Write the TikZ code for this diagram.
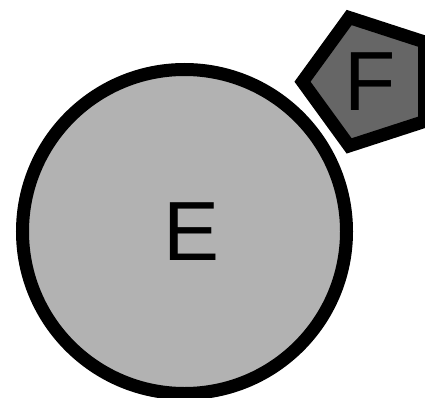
\documentclass[tikz,border=0pt]{standalone}
\usepackage{fontspec}
\setmainfont{Liberation Sans}
\usetikzlibrary{shapes.geometric}

\begin{document}
\begin{tikzpicture}[x=1pt, y=-1pt,
  outlined/.style={draw=black, line width=13pt, inner sep=0pt},
  bigletter/.style={font=\fontsize{84}{84}\selectfont}]
  % Bounding box
  \useasboundingbox (0,0) rectangle (425,398);
  % Circle E
  \node[outlined, circle, fill=black!30, minimum size=324pt,
        label={[bigletter, xshift=7pt]center:E}] (circE) at (184.5,231.5) {};
  % Pentagon F
  \node[outlined, regular polygon, regular polygon sides=5, shape border rotate=90,
        fill=black!60, minimum size=135pt, bigletter] (pentF) at (370,81.7) {F};
\end{tikzpicture}
\end{document}
